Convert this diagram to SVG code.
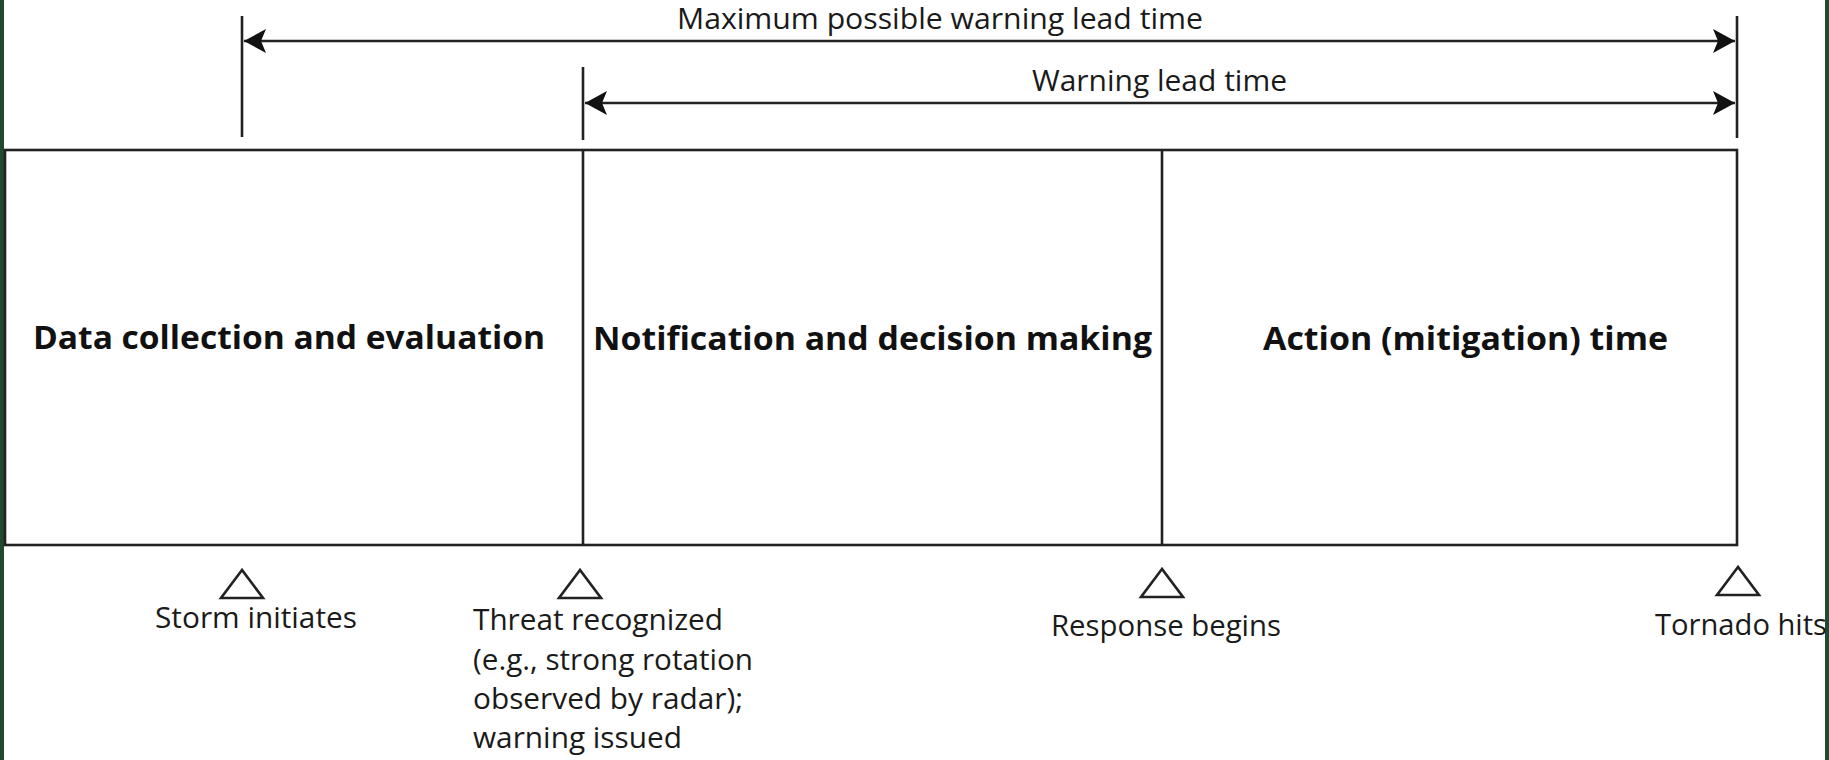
<svg xmlns="http://www.w3.org/2000/svg" width="1829" height="760" viewBox="0 0 1829 760">
<style>
.ln{stroke:#222;stroke-width:2.6;fill:none}
.tri{stroke:#222;stroke-width:2.6;fill:none;stroke-linejoin:miter}
.t{font-family:"Open Sans","Liberation Sans",sans-serif;font-size:30px;fill:#1a1a1a}
.b{font-family:"Open Sans","Liberation Sans",sans-serif;font-size:33px;font-weight:bold;fill:#111}
</style>
<defs>
<marker id="ah" viewBox="0 0 22 24" refX="22" refY="12" markerWidth="22" markerHeight="24" markerUnits="userSpaceOnUse" orient="auto-start-reverse">
<path d="M22,12 L0,0 L5,12 L0,24 Z" fill="#111"/>
</marker>
</defs>
<rect x="0" y="0" width="1829" height="760" fill="#ffffff"/>
<rect x="0" y="0" width="4" height="760" fill="#1f4a2d"/>
<rect x="1825" y="0" width="4" height="760" fill="#1f4a2d"/>

<g id="box">
<rect class="ln" x="5" y="150" width="1732" height="395"/>
<line class="ln" x1="583" y1="150" x2="583" y2="545"/>
<line class="ln" x1="1162" y1="150" x2="1162" y2="545"/>
</g>
<g id="phase-data">
<text class="b" x="289" y="349" text-anchor="middle" textLength="512" lengthAdjust="spacingAndGlyphs">Data collection and evaluation</text>
</g>
<g id="phase-notification">
<text class="b" x="872.5" y="350" text-anchor="middle" textLength="559" lengthAdjust="spacingAndGlyphs">Notification and decision making</text>
</g>
<g id="phase-action">
<text class="b" x="1465.5" y="350" text-anchor="middle" textLength="405" lengthAdjust="spacingAndGlyphs">Action (mitigation) time</text>
</g>

<g id="connectors">
<line class="ln" x1="242" y1="16" x2="242" y2="137"/>
<line class="ln" x1="1737" y1="16" x2="1737" y2="138"/>
<line class="ln" x1="583" y1="67" x2="583" y2="140"/>
<line class="ln" x1="244" y1="41" x2="1735" y2="41" marker-start="url(#ah)" marker-end="url(#ah)"/>
<line class="ln" x1="585" y1="103" x2="1735" y2="103" marker-start="url(#ah)" marker-end="url(#ah)"/>
</g>
<g id="label-max">
<text class="t" x="940" y="29" text-anchor="middle" textLength="526" lengthAdjust="spacingAndGlyphs">Maximum possible warning lead time</text>
</g>
<g id="label-warning">
<text class="t" x="1159.5" y="91" text-anchor="middle" textLength="255" lengthAdjust="spacingAndGlyphs">Warning lead time</text>
</g>

<g id="event-storm">
<path class="tri" d="M242,570 L221,598 L263,598 Z"/>
<text class="t" x="256" y="628" text-anchor="middle" textLength="202" lengthAdjust="spacingAndGlyphs">Storm initiates</text>
</g>
<g id="event-threat">
<path class="tri" d="M580,570 L559,598 L601,598 Z"/>
<text class="t" x="473" y="630" textLength="250" lengthAdjust="spacingAndGlyphs">Threat recognized</text>
<text class="t" x="473" y="670" textLength="280" lengthAdjust="spacingAndGlyphs">(e.g., strong rotation</text>
<text class="t" x="473" y="709" textLength="270" lengthAdjust="spacingAndGlyphs">observed by radar);</text>
<text class="t" x="473" y="748" textLength="209" lengthAdjust="spacingAndGlyphs">warning issued</text>
</g>
<g id="event-response">
<path class="tri" d="M1162,569 L1141,597 L1183,597 Z"/>
<text class="t" x="1166" y="636" text-anchor="middle" textLength="230" lengthAdjust="spacingAndGlyphs">Response begins</text>
</g>
<g id="event-tornado">
<path class="tri" d="M1738,567 L1717,595 L1759,595 Z"/>
<text class="t" x="1655" y="635" textLength="172" lengthAdjust="spacingAndGlyphs">Tornado hits</text>
</g>
</svg>
